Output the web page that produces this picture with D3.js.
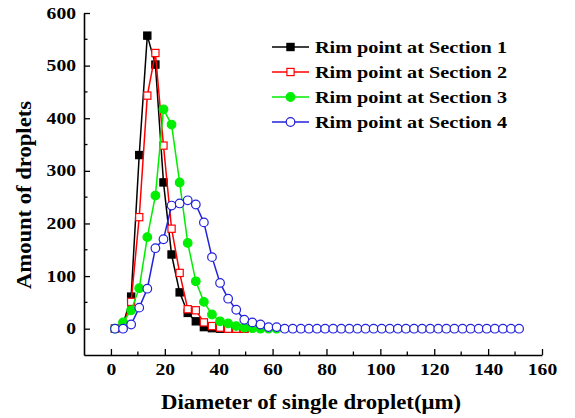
<!DOCTYPE html>
<html><head><meta charset="utf-8">
<script src="https://cdn.jsdelivr.net/npm/d3@7"></script>
<style>body{margin:0;background:#fff;} svg{display:block;}</style>
</head><body>
<svg id="c" width="575" height="418"></svg>
<script>
// Diameter bins (μm): bin centres every 3 μm
const diameters = d3.range(51).map(i => 1.5 + 3 * i);
const seriesNames = ["Rim point at Section 1", "Rim point at Section 2", "Rim point at Section 3", "Rim point at Section 4"];
const section1 = [0, 8, 61, 330, 557, 502, 278, 141, 69, 30, 14, 3, 1, 0, 0, 0, 0];
const section2 = [0, 5, 51, 212, 443, 524, 348, 190, 106, 37, 35, 12, 5, 2, 0, 0, 0];
const section3 = [0, 12, 35, 77, 174, 253, 417, 388, 278, 163, 90, 51, 27, 14, 10, 5, 2, 1, 0, 0, 0];
const section4 = [0, 0, 8, 40, 76, 153, 170, 234, 238, 244, 236, 202, 136, 87, 57, 36, 17, 12, 8, 3, 3,
  0, 0, 0, 0, 0, 0, 0, 0, 0, 0, 0, 0, 0, 0, 0, 0, 0, 0, 0, 0, 0, 0, 0, 0, 0, 0, 0, 0, 0, 0];
const xTicks = [0, 20, 40, 60, 80, 100, 120, 140, 160];
const yTicks = [0, 100, 200, 300, 400, 500, 600];

const svg = d3.select("#c");
const x = d3.scaleLinear().domain([-10, 160]).range([84, 542]);
const y = d3.scaleLinear().domain([-50, 600]).range([355, 13]);
const font = "'Liberation Serif','Times New Roman',serif";

const styles = [
  {color: "#000000", shape: "square", fill: "#000000"},
  {color: "#ff0000", shape: "square", fill: "#ffffff"},
  {color: "#00ee00", shape: "circle", fill: "#00ee00"},
  {color: "#2222dd", shape: "circle", fill: "#ffffff"}
];
const allData = [section1, section2, section3, section4];

// axes
const gx = svg.append("g").attr("transform", `translate(0,${y(-50)})`);
gx.call(d3.axisBottom(x).tickValues(xTicks).tickSizeInner(-6).tickSizeOuter(0).tickFormat(d3.format("d")));
gx.selectAll(".tick line").attr("stroke", "#000").attr("stroke-width", 1.3);
gx.selectAll(".tick text").attr("y", 9).attr("dy", "0.71em");
gx.append("g").selectAll("line").data(d3.range(10, 160, 20)).join("line")
  .attr("x1", d => x(d)).attr("x2", d => x(d)).attr("y1", 0).attr("y2", -3.5).attr("stroke", "#000").attr("stroke-width", 1.3);

const gy = svg.append("g").attr("transform", `translate(${x(-10)},0)`);
gy.call(d3.axisLeft(y).tickValues(yTicks).tickSizeInner(-6).tickSizeOuter(0));
gy.selectAll(".tick line").attr("stroke", "#000").attr("stroke-width", 1.3);
gy.selectAll(".tick text").attr("x", -8);
gy.append("g").selectAll("line").data(d3.range(50, 600, 100)).join("line")
  .attr("y1", d => y(d)).attr("y2", d => y(d)).attr("x1", 0).attr("x2", 3.5).attr("stroke", "#000").attr("stroke-width", 1.3);

[gx, gy].forEach(g => {
  g.select(".domain").attr("stroke", "#000").attr("stroke-width", 1.6);
  g.selectAll(".tick text").attr("font-family", font).attr("font-weight", "bold").attr("font-size", 16).attr("fill", "#000")
    .attr("lengthAdjust", "spacingAndGlyphs")
    .attr("textLength", function() { return this.textContent.length * 9.8; });
});

// axis titles
svg.append("text").attr("x", 311).attr("y", 409).attr("text-anchor", "middle")
  .attr("font-family", font).attr("font-weight", "bold").attr("font-size", 20)
  .attr("lengthAdjust", "spacingAndGlyphs").attr("textLength", 300).text("Diameter of single droplet(μm)");
svg.append("text").attr("transform", "translate(31,195) rotate(-90)").attr("text-anchor", "middle")
  .attr("font-family", font).attr("font-weight", "bold").attr("font-size", 20)
  .attr("lengthAdjust", "spacingAndGlyphs").attr("textLength", 188).text("Amount of droplets");

function drawMarker(g, st, cx, cy) {
  if (st.shape === "square") {
    g.append("rect").attr("x", cx - 3.6).attr("y", cy - 3.6).attr("width", 7.2).attr("height", 7.2)
      .attr("fill", st.fill).attr("stroke", st.color).attr("stroke-width", 1.2);
  } else {
    g.append("circle").attr("cx", cx).attr("cy", cy).attr("r", 4.3)
      .attr("fill", st.fill).attr("stroke", st.color).attr("stroke-width", 1.2);
  }
}

const line = d3.line().x(d => x(d[0])).y(d => y(d[1]));
allData.forEach((vals, k) => {
  const st = styles[k];
  const pts = vals.map((v, i) => [diameters[i], v]);
  const g = svg.append("g");
  g.append("path").datum(pts).attr("d", line).attr("fill", "none").attr("stroke", st.color).attr("stroke-width", 1.5);
  pts.forEach(p => drawMarker(g, st, x(p[0]), y(p[1])));
});

// legend
const legY = [47, 72, 97, 122];
seriesNames.forEach((name, k) => {
  const st = styles[k];
  const g = svg.append("g");
  g.append("line").attr("x1", 272).attr("x2", 309).attr("y1", legY[k]).attr("y2", legY[k])
    .attr("stroke", st.color).attr("stroke-width", 1.5);
  drawMarker(g, st, 290.5, legY[k]);
  g.append("text").attr("x", 315).attr("y", legY[k]).attr("dy", "0.35em")
    .attr("font-family", font).attr("font-weight", "bold").attr("font-size", 17)
    .attr("lengthAdjust", "spacingAndGlyphs").attr("textLength", 192).text(name);
});
</script>
</body></html>
